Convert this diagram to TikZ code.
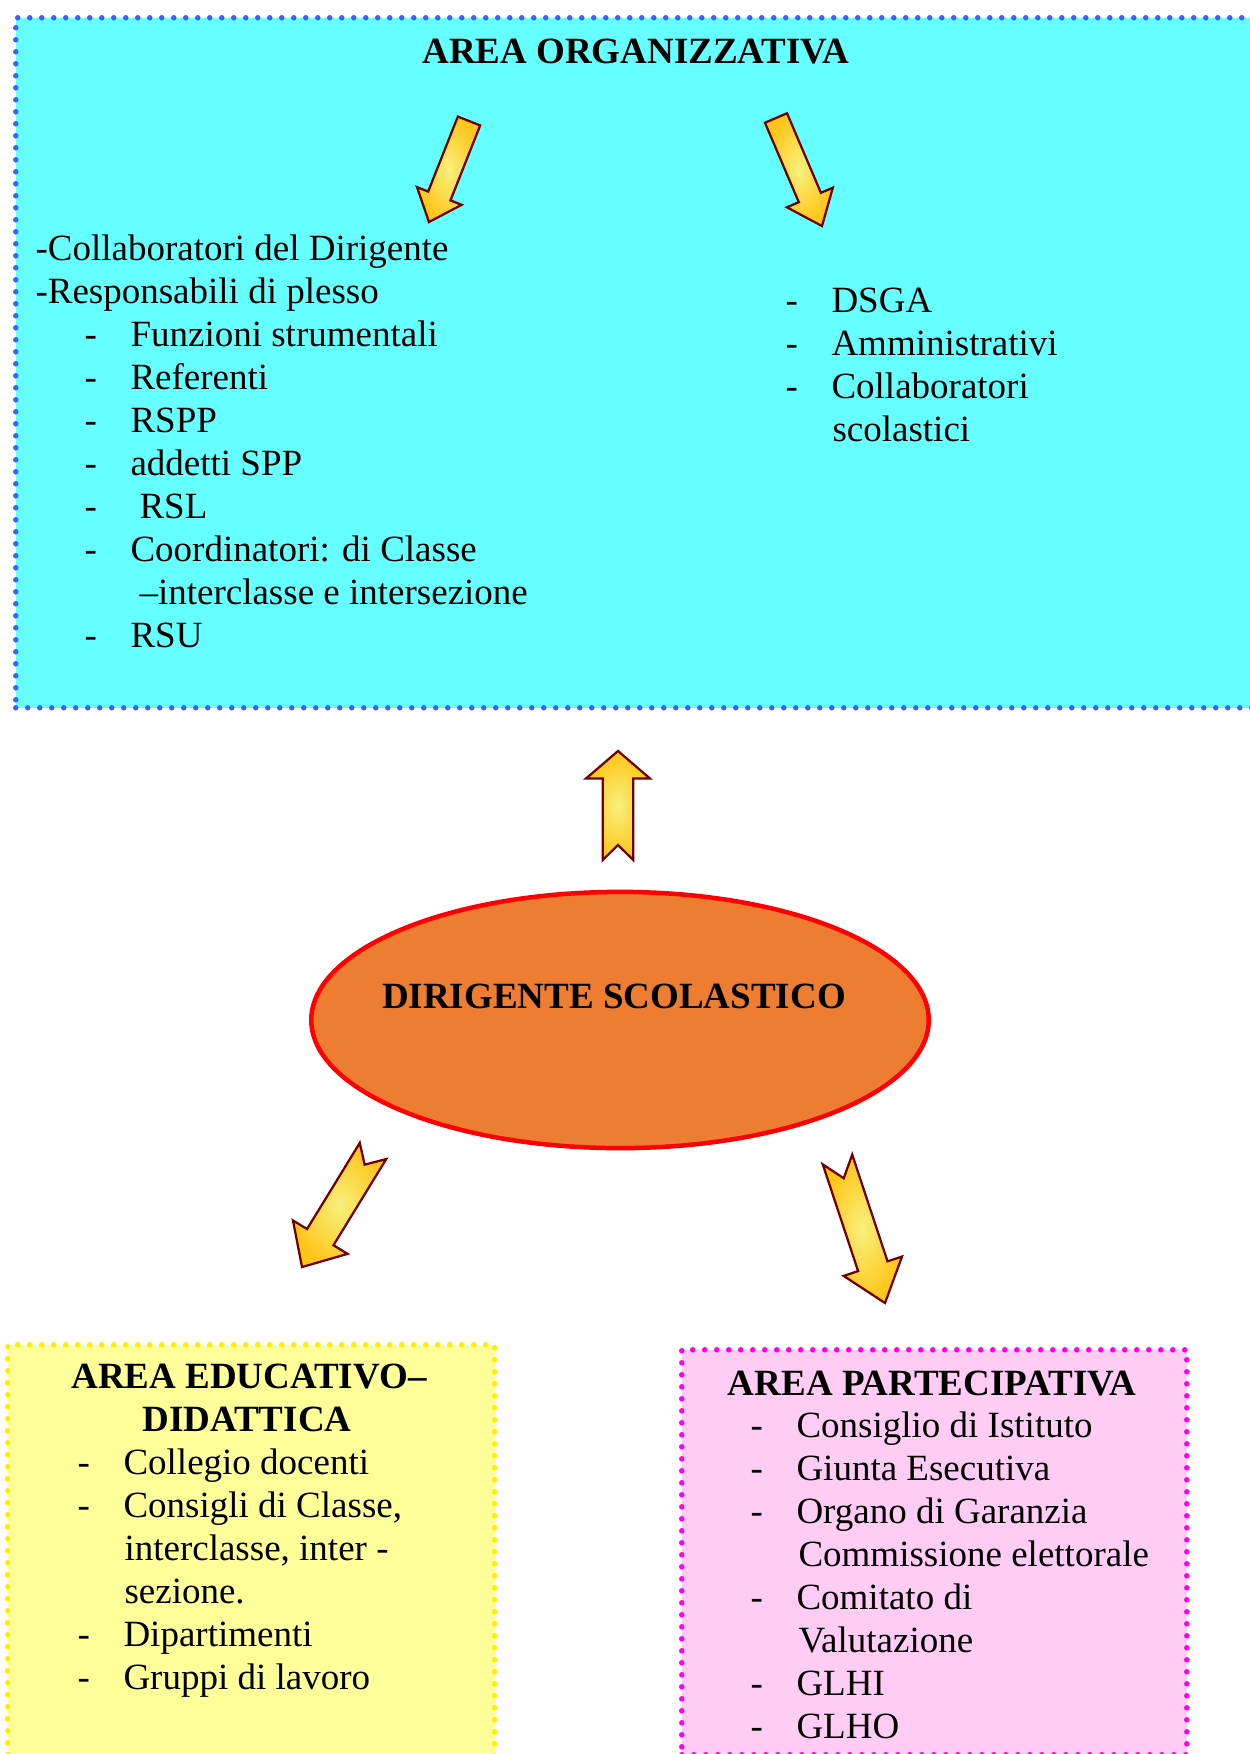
\documentclass[tikz,border=0pt]{standalone}
\usepackage{fontspec}
\setmainfont{Liberation Serif}
\usetikzlibrary{calc,shapes.geometric}
\definecolor{orgfill}{HTML}{66FFFF}
\definecolor{orgline}{HTML}{3F60FF}
\definecolor{edufill}{HTML}{FFFF99}
\definecolor{eduline}{HTML}{FFEE00}
\definecolor{parfill}{HTML}{FFCCF4}
\definecolor{parline}{HTML}{FF00EE}
\definecolor{ellfill}{HTML}{ED7D31}
\definecolor{ellline}{HTML}{FF0000}
\definecolor{arrline}{HTML}{700000}
\definecolor{arrin}{HTML}{F8F07C}
\definecolor{arrout}{HTML}{FFC61A}
\newcommand\fsz{\fontsize{14.8pt}{17.2pt}\selectfont}
\tikzset{
  dotborder/.style={line width=2.2pt, dash pattern=on 0pt off 4.8pt, line cap=round},
  areabox/.style={dotborder, anchor=north west, inner sep=0pt},
  txt/.style={inner sep=0pt, anchor=base west, font=\fsz},
  ttl/.style={inner sep=0pt, anchor=base, font=\fsz\bfseries},
  blockarrow/.style={draw=arrline, line width=0.9pt, line join=miter, inner color=arrin, outer color=arrout},
}
% name, tail, tip, half shaft, half head, head length, notch
\newcommand\barrow[7]{%
  \coordinate (#1t) at #2;
  \coordinate (#1h) at #3;
  \coordinate (#1b) at ($(#1h)!#6!(#1t)$);
  \shadedraw[blockarrow] ($(#1t)!#4!90:(#1h)$) -- ($(#1b)!#4!90:(#1h)$) -- ($(#1b)!#5!90:(#1h)$) -- (#1h)
    -- ($(#1b)!#5!-90:(#1h)$) -- ($(#1b)!#4!-90:(#1h)$) -- ($(#1t)!#4!-90:(#1h)$) -- ($(#1t)!#7!(#1h)$) -- cycle;
}
\begin{document}
\begin{tikzpicture}[x=0.4pt,y=-0.4pt]
\useasboundingbox (0,0) rectangle (1250,1754);
\clip (0,0) rectangle (1250,1754);
\fill[white] (0,0) rectangle (1250,1754);

% area boxes
\node[areabox, draw=orgline, fill=orgfill, minimum width=500.8pt, minimum height=276pt] (orgbox) at (13,15) {};
\node[areabox, draw=eduline, fill=edufill, minimum width=194.8pt, minimum height=171.2pt] (edubox) at (5,1342) {};
\node[areabox, draw=parline, fill=parfill, minimum width=202pt, minimum height=162pt] (parbox) at (679,1347) {};

% ellipse
\node[ellipse, draw=ellline, line width=1.8pt, fill=ellfill, minimum width=247pt, minimum height=102.5pt, inner sep=0pt] (ds) at (620,1020) {};
\node[ttl] (dstext) at (614,1008) {DIRIGENTE SCOLASTICO};

% area organizzativa
\node[ttl] (orgtitle) at (636,63) {AREA ORGANIZZATIVA};
\node[txt] (o1) at (35,260) {-Collaboratori del Dirigente};
\node[txt] (o2) at (35,303) {-Responsabili di plesso};
\node[txt] (o3d) at (84,346) {-}; \node[txt] (o3) at (130,346) {Funzioni strumentali};
\node[txt] (o4d) at (84,389) {-}; \node[txt] (o4) at (130,389) {Referenti};
\node[txt] (o5d) at (84,432) {-}; \node[txt] (o5) at (130,432) {RSPP};
\node[txt] (o6d) at (84,475) {-}; \node[txt] (o6) at (130,475) {addetti SPP};
\node[txt] (o7d) at (84,518) {-}; \node[txt] (o7) at (139,518) {RSL};
\node[txt] (o8d) at (84,561) {-}; \node[txt] (o8) at (130,561) {Coordinatori: di Classe};
\node[txt] (o9) at (139,604) {–interclasse e intersezione};
\node[txt] (o10d) at (84,647) {-}; \node[txt] (o10) at (130,647) {RSU};

\node[txt] (r1d) at (785,312) {-}; \node[txt] (r1) at (831,312) {DSGA};
\node[txt] (r2d) at (785,355) {-}; \node[txt] (r2) at (831,355) {Amministrativi};
\node[txt] (r3d) at (785,398) {-}; \node[txt] (r3) at (831,398) {Collaboratori};
\node[txt] (r4) at (832,441) {scolastici};

% area educativo-didattica
\node[ttl] (edut1) at (249,1388) {AREA EDUCATIVO–};
\node[ttl] (edut2) at (247,1431) {DIDATTICA};
\node[txt] (e1d) at (77,1474) {-}; \node[txt] (e1) at (123,1474) {Collegio docenti};
\node[txt] (e2d) at (77,1517) {-}; \node[txt] (e2) at (123,1517) {Consigli di Classe,};
\node[txt] (e3) at (124,1560) {interclasse, inter -};
\node[txt] (e4) at (124,1603) {sezione.};
\node[txt] (e5d) at (77,1646) {-}; \node[txt] (e5) at (123,1646) {Dipartimenti};
\node[txt] (e6d) at (77,1689) {-}; \node[txt] (e6) at (123,1689) {Gruppi di lavoro};

% area partecipativa
\node[ttl] (part) at (932,1395) {AREA PARTECIPATIVA};
\node[txt] (p1d) at (750,1437) {-}; \node[txt] (p1) at (796,1437) {Consiglio di Istituto};
\node[txt] (p2d) at (750,1480) {-}; \node[txt] (p2) at (796,1480) {Giunta Esecutiva};
\node[txt] (p3d) at (750,1523) {-}; \node[txt] (p3) at (796,1523) {Organo di Garanzia};
\node[txt] (p4) at (798,1566) {Commissione elettorale};
\node[txt] (p5d) at (750,1609) {-}; \node[txt] (p5) at (796,1609) {Comitato di};
\node[txt] (p6) at (798,1652) {Valutazione};
\node[txt] (p7d) at (750,1695) {-}; \node[txt] (p7) at (796,1695) {GLHI};
\node[txt] (p8d) at (750,1738) {-}; \node[txt] (p8) at (796,1738) {GLHO};

% block arrows
\barrow{al}{(469,121)}{(429,222)}{4.8pt}{9.6pt}{11.2pt}{0pt}
\barrow{ar}{(776,118)}{(822,226)}{4.8pt}{10pt}{12.4pt}{0pt}
\barrow{au}{(618,860)}{(618,751)}{6.1pt}{12.8pt}{11pt}{6pt}
\barrow{bl}{(373,1151)}{(302,1267)}{6.2pt}{12.8pt}{14pt}{6.4pt}
\barrow{br}{(837.5,1159.5)}{(885,1303)}{6.2pt}{12.3pt}{15.5pt}{7.9pt}
\end{tikzpicture}
\end{document}
